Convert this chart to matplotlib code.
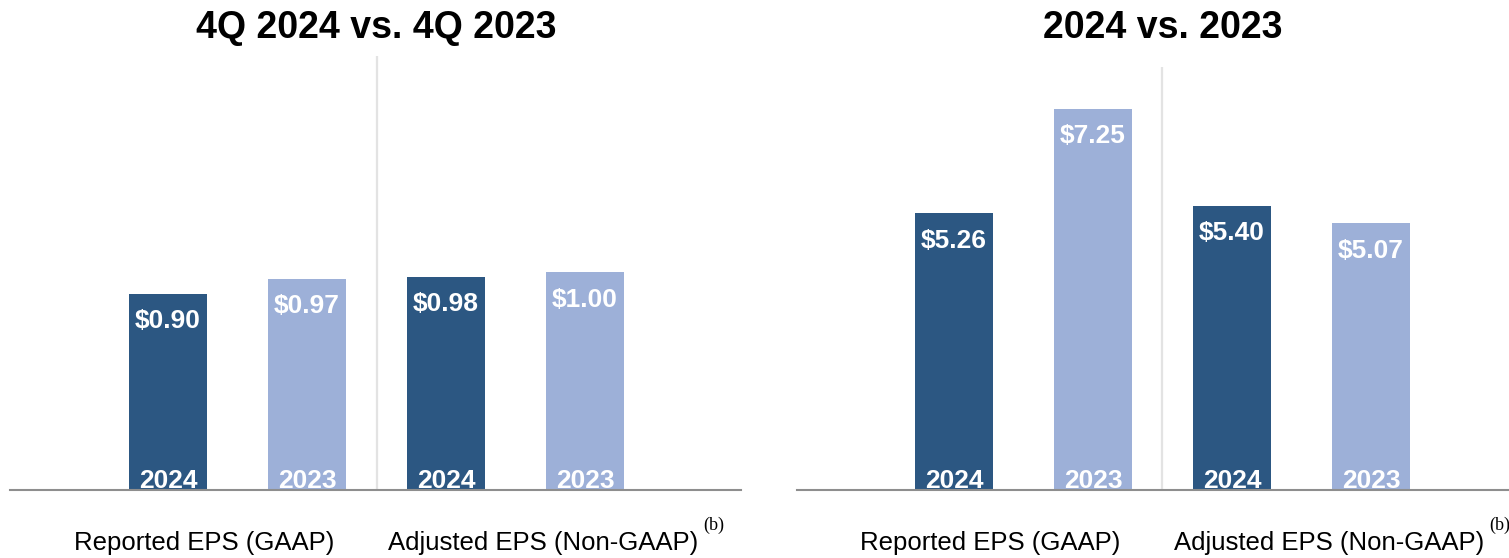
import matplotlib
matplotlib.use('Agg')
import matplotlib.pyplot as plt

plt.rcParams['font.family'] = ['Liberation Sans', 'DejaVu Sans']

# data
panelTitles = ['4Q 2024 vs. 4Q 2023', '2024 vs. 2023']
categories = ['Reported EPS (GAAP)', 'Adjusted EPS (Non-GAAP)']
years = ['2024', '2023', '2024', '2023']
quarterEps = [0.90, 0.97, 0.98, 1.00]
yearEps = [5.26, 7.25, 5.40, 5.07]

darkBlue = '#2c5782'
lightBlue = '#9db0d8'
barColors = [darkBlue, lightBlue, darkBlue, lightBlue]

W, H = 1509, 558
fig = plt.figure(figsize=(W / 100, H / 100), dpi=100)

# axes boxes in pixels: left, bottom(from top), right, top(from top)
boxes = [(10, 490, 741, 56), (797, 490, 1509, 67)]
ylims = [1.993, 8.04]
xlims = [(-1.137, 4.122), (-1.129, 3.993)]
allValues = [quarterEps, yearEps]


def px_box(b):
    l, bt, r, t = b
    return [l / W, (H - bt) / H, (r - l) / W, (bt - t) / H]


for i in range(2):
    ax = fig.add_axes(px_box(boxes[i]))
    vals = allValues[i]
    xs = list(range(len(vals)))
    ax.bar(xs, vals, width=0.56, color=barColors, zorder=2)
    ax.set_xlim(*xlims[i])
    ax.set_ylim(0, ylims[i])

    for s in ['top', 'right', 'left']:
        ax.spines[s].set_visible(False)
    ax.spines['bottom'].set_color('#8e8e8e')
    ax.spines['bottom'].set_linewidth(1.5)
    ax.spines['bottom'].set_zorder(5)
    ax.set_xticks([])
    ax.set_yticks([])

    # divider between the two groups
    ax.axvline(1.5, color='#e3e3e3', lw=1.6, zorder=1)

    for x, v, yr in zip(xs, vals, years):
        ax.annotate('${:.2f}'.format(v), xy=(x, v), xytext=(0, -11),
                    textcoords='offset points', ha='center', va='top',
                    color='white', fontsize=19, fontweight='bold', zorder=6)
        ax.annotate(yr, xy=(x, 0), xytext=(0, 1.5), textcoords='offset points',
                    ha='center', va='baseline', color='white', fontsize=19,
                    fontweight='bold', zorder=6)

    # title centred over the divider
    ax.annotate(panelTitles[i], xy=(1.5, 1), xycoords=('data', 'axes fraction'),
                xytext=(0, (boxes[i][3] - 38) * 0.72), textcoords='offset points',
                ha='center', va='baseline', fontsize=27, fontweight='bold')

    # category labels
    catX = [0.26, 2.70]
    for j, cat in enumerate(categories):
        lbl = ax.annotate(cat, xy=(catX[j], 0), xycoords=('data', 'axes fraction'),
                          xytext=(0, -43.2), textcoords='offset points',
                          ha='center', va='baseline', fontsize=18.5, color='black',
                          annotation_clip=False)
        if j == 1:
            ax.annotate('(b)', xy=(1, 1), xycoords=lbl, xytext=(3.5, 4),
                        textcoords='offset points', ha='left', va='center',
                        fontsize=13, family='Liberation Serif', color='black',
                        annotation_clip=False)

fig.savefig('out.png', dpi=100)
